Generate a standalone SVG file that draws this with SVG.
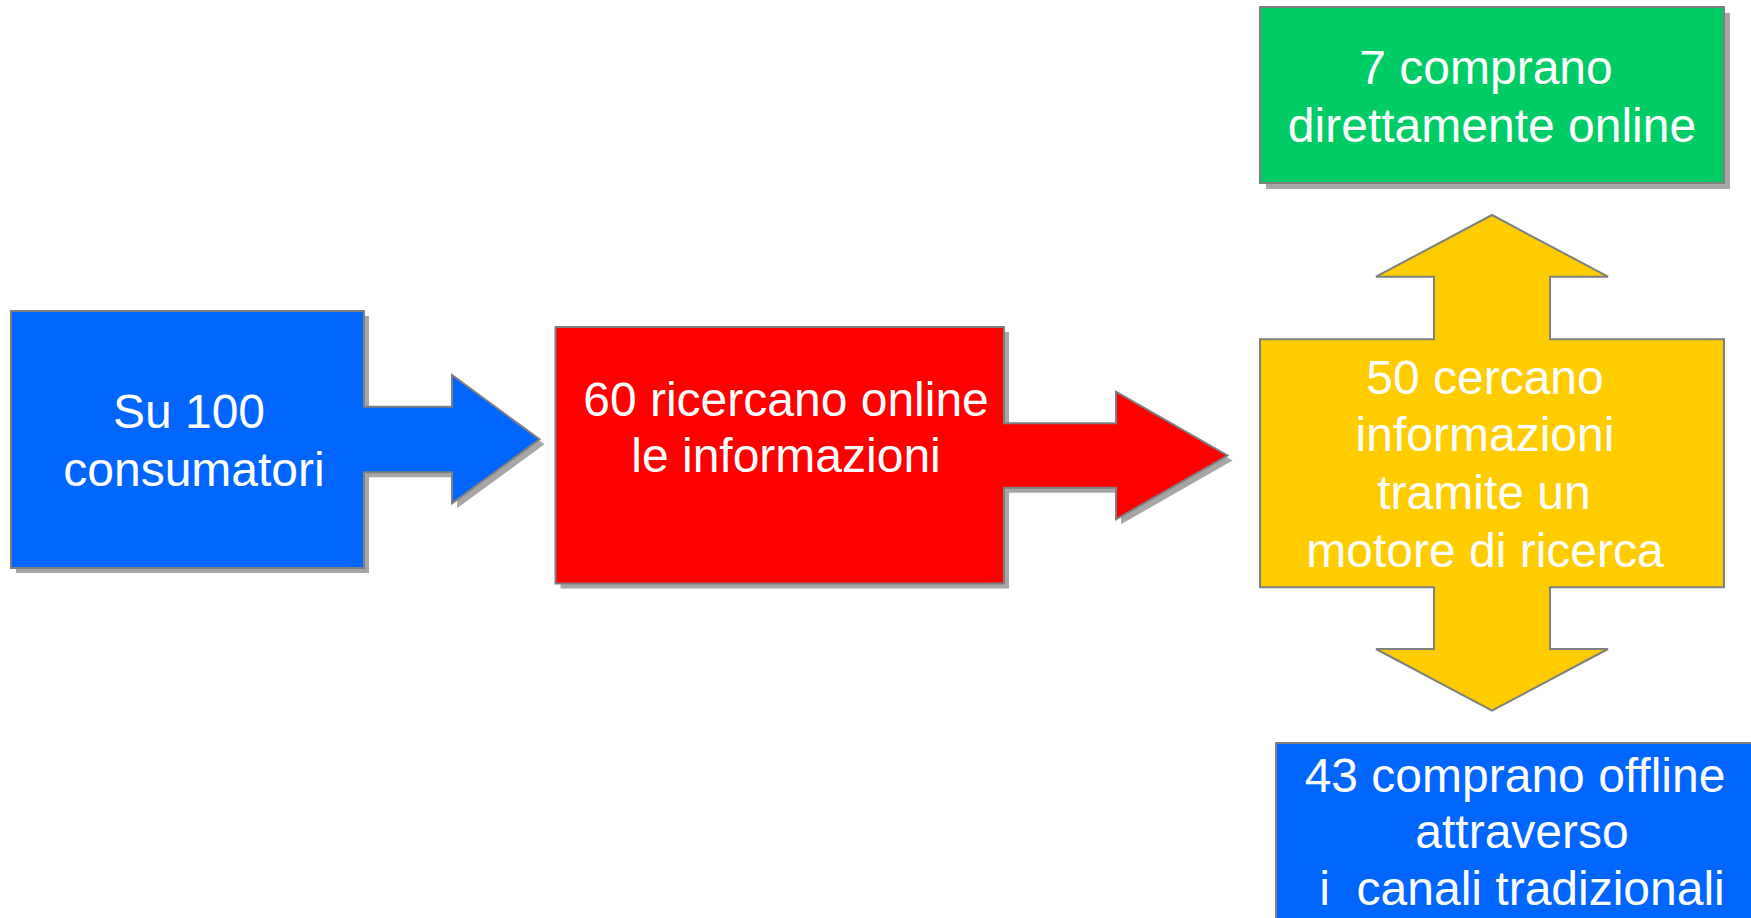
<svg xmlns="http://www.w3.org/2000/svg" width="1751" height="918" viewBox="0 0 1751 918">
<style>
.sh{fill:#A6A6A6;stroke:none}
.bd{stroke:#7F7F7F;stroke-width:2}
.t{font-family:"Liberation Sans",Arial,sans-serif;font-size:48px;fill:#FFFFFF;text-anchor:middle;white-space:pre}
</style>
<rect width="1751" height="918" fill="#FFFFFF"/>
<g id="node-consumatori">
<polygon class="sh" transform="translate(5,5)" points="11,311 364,311 364,406.7 452,406.7 452,375 539.5,439.3 452,503.3 452,472.3 364,472.3 364,568 11,568"/>
<polygon class="bd" fill="#0066FF" points="11,311 364,311 364,406.7 452,406.7 452,375 539.5,439.3 452,503.3 452,472.3 364,472.3 364,568 11,568"/>
<text class="t" x="189" y="428">Su 100</text>
<text class="t" x="194" y="486">consumatori</text>
</g>
<g id="node-ricercano">
<polygon class="sh" transform="translate(5,5)" points="555.5,327 1004,327 1004,423.3 1116,423.3 1116,391.7 1227.5,455.5 1116,519.3 1116,487.7 1004,487.7 1004,583.5 555.5,583.5"/>
<polygon class="bd" fill="#FF0000" points="555.5,327 1004,327 1004,423.3 1116,423.3 1116,391.7 1227.5,455.5 1116,519.3 1116,487.7 1004,487.7 1004,583.5 555.5,583.5"/>
<text class="t" x="786" y="416">60 ricercano online</text>
<text class="t" x="786" y="472">le informazioni</text>
</g>
<g id="node-online">
<rect class="sh" x="1266" y="13" width="464" height="176"/>
<rect class="bd" fill="#00CC66" x="1260" y="7" width="464" height="176"/>
<text class="t" x="1486" y="84">7 comprano</text>
<text class="t" x="1492" y="142">direttamente online</text>
</g>
<g id="node-motore">
<polygon class="bd" fill="#FFCC00" points="1492,215 1608,276.7 1550,276.7 1550,339.3 1724,339.3 1724,587.3 1550,587.3 1550,649 1608,649 1492,710.7 1376,649 1434,649 1434,587.3 1260,587.3 1260,339.3 1434,339.3 1434,276.7 1376,276.7"/>
<text class="t" x="1485" y="394">50 cercano</text>
<text class="t" x="1485" y="451">informazioni</text>
<text class="t" x="1484" y="509">tramite un</text>
<text class="t" x="1485" y="567">motore di ricerca</text>
</g>
<g id="node-offline">
<rect class="bd" fill="#0066FF" x="1276" y="743" width="520" height="220"/>
<text class="t" x="1515" y="792">43 comprano offline</text>
<text class="t" x="1522" y="848">attraverso</text>
<text class="t" x="1522" y="905">i  canali tradizionali</text>
</g>
<g id="connectors"/>
</svg>
